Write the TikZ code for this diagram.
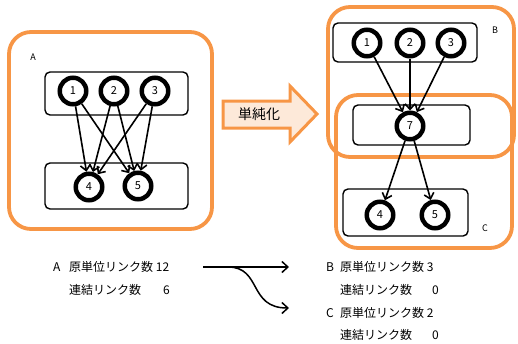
\documentclass[tikz,border=0pt]{standalone}
\usepackage{fontspec}
\setmainfont{Noto Sans CJK JP}
\usetikzlibrary{arrows.meta}
\definecolor{org}{HTML}{F79646}
\definecolor{peach}{HTML}{FDE9D9}
\tikzset{
 grp/.style={draw=org, line width=3.8pt, rounded corners=22pt, inner sep=0pt},
 box/.style={draw=black, line width=1.4pt, rounded corners=5pt, inner sep=0pt},
 vtx/.style={circle, draw, fill=white, line width=4.5pt, minimum size=26.5pt, inner sep=0pt, font=\fontsize{11}{12}\selectfont},
 lnk/.style={-{Straight Barb[length=5.5pt,width=10pt]}, line width=1.6pt},
 blnk/.style={-{Straight Barb[length=6pt,width=11pt]}, line width=1.5pt},
 lbl/.style={font=\fontsize{9}{11}\selectfont, inner sep=0pt},
 txt/.style={font=\fontsize{12}{14}\selectfont, anchor=west, inner sep=0pt}
}
\begin{document}
\begin{tikzpicture}[x=1pt,y=-1pt]
\useasboundingbox (0,0) rectangle (518,343);
% group A
\node[grp, minimum width=203pt, minimum height=197pt] (gA) at (110.5,130.5) {};
\node[lbl] (lA) at (33,57) {A};
\node[box, minimum width=143pt, minimum height=43pt] (tbA) at (116.5,93.5) {};
\node[box, minimum width=143pt, minimum height=46pt] (bbA) at (116.5,186) {};
\node[vtx] (a1) at (73,91) {1};
\node[vtx] (a2) at (114,91) {2};
\node[vtx] (a3) at (155,91) {3};
\node[vtx] (a4) at (89,187) {4};
\node[vtx] (a5) at (138,186) {5};
\foreach \s in {a1,a2,a3}{
  \draw[lnk] (\s) -- (a4);
  \draw[lnk] (\s) -- (a5);
}
% simplify arrow
\draw[draw=org, fill=peach, line width=3pt, line join=miter]
  (223,101) -- (290,101) -- (290,86) -- (317,114) -- (290,142) -- (290,128) -- (223,128) -- cycle;
\node[font=\fontsize{14}{16}\selectfont, inner sep=0pt] (simp) at (259,114.5) {単純化};
% groups B and C
\node[grp, minimum width=186pt, minimum height=150pt] (gB) at (421,82) {};
\node[grp, minimum width=176pt, minimum height=153pt] (gC) at (424,171.5) {};
\node[lbl] (lB) at (495,30) {B};
\node[lbl] (lC) at (485,228) {C};
\node[box, minimum width=144pt, minimum height=39pt] (tbB) at (405,42.5) {};
\node[box, minimum width=117pt, minimum height=40pt] (mbB) at (411.5,125) {};
\node[box, minimum width=125pt, minimum height=47pt] (bbC) at (405.5,212.5) {};
\node[vtx] (b1) at (367,43) {1};
\node[vtx] (b2) at (410,43) {2};
\node[vtx] (b3) at (451,43) {3};
\node[vtx] (b7) at (410,126) {7};
\node[vtx] (c4) at (380,215) {4};
\node[vtx] (c5) at (435,215) {5};
\foreach \s in {b1,b2,b3}{ \draw[lnk] (\s) -- (b7); }
\draw[lnk] (b7) -- (c4);
\draw[lnk] (b7) -- (c5);
% bottom text
\node[txt] (xA) at (53,267) {A};
\node[txt] (xA1) at (69,267) {原単位リンク数 12};
\node[txt] (xA2) at (69,290) {連結リンク数};
\node[txt] (xA3) at (163,290) {6};
\node[txt] (xB) at (326,267) {B};
\node[txt] (xB1) at (340,267) {原単位リンク数 3};
\node[txt] (xB2) at (340,290) {連結リンク数};
\node[txt] (xB3) at (432,290) {0};
\node[txt] (xC) at (326,313) {C};
\node[txt] (xC1) at (340,313) {原単位リンク数 2};
\node[txt] (xC2) at (340,335) {連結リンク数};
\node[txt] (xC3) at (432,335) {0};
\coordinate (s1) at (203,267);
\coordinate (e1) at (289,267);
\coordinate (s2) at (228,267);
\coordinate (e2) at (289,308);
\draw[blnk] (s1) -- (e1);
\draw[blnk] (s2) .. controls (262,267) and (248,308) .. (e2);
\end{tikzpicture}
\end{document}
